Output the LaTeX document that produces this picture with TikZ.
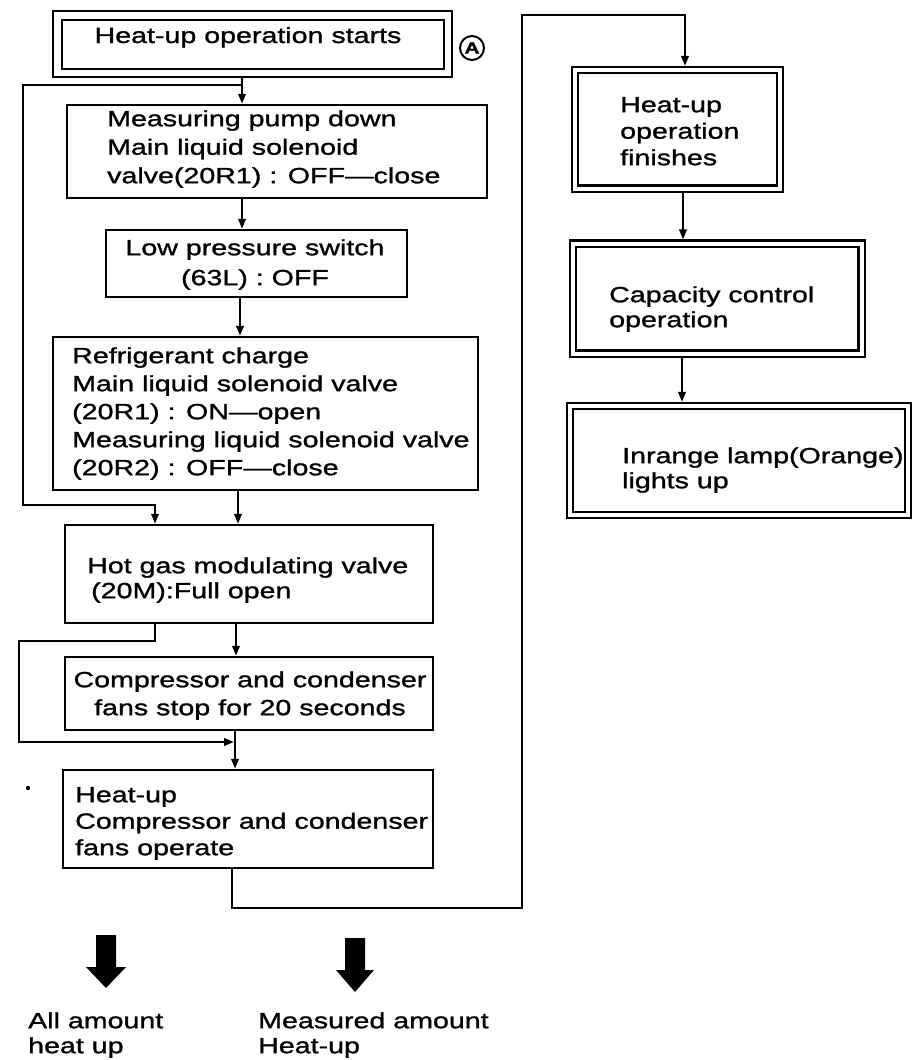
\documentclass[tikz,border=0pt]{standalone}
\usepackage{fontspec}
\setmainfont[FakeStretch=1.3,FakeBold=1.2]{Liberation Sans}
\usetikzlibrary{arrows.meta}
\newcommand\fs{\rule{0pt}{17pt}}
\begin{document}
\begin{tikzpicture}[x=1pt,y=-1pt,
  box/.style={draw, line width=2.5pt, rectangle, inner sep=0pt},
  dboxA/.style={draw, line width=2.2pt, double, double distance=6.5pt, rectangle, inner sep=0pt, outer sep=5.45pt},
  dboxB/.style={draw, line width=2.1pt, double, double distance=4pt, rectangle, inner sep=0pt, outer sep=4.1pt},
  txt/.style={inner sep=0pt, anchor=north west, align=left, font=\fontsize{22}{28}\selectfont},
  ln/.style={line width=2.2pt, line join=miter},
  arr/.style={ln, -{Triangle[length=10pt,width=7.5pt]}}
]
\useasboundingbox (0,0) rectangle (914,1060);

% boxes
\node[dboxA, minimum width=390.5pt, minimum height=57.5pt] (b1) at (252.75,44.25) {};
\node[box, minimum width=420pt, minimum height=93pt] (b2) at (277,151.5) {};
\node[box, minimum width=301pt, minimum height=67pt] (b3) at (256.5,263.5) {};
\node[box, minimum width=425pt, minimum height=153pt] (b4) at (265.5,413.5) {};
\node[box, minimum width=368pt, minimum height=98pt] (b5) at (249,574) {};
\node[box, minimum width=368pt, minimum height=73pt] (b6) at (249,693.5) {};
\node[box, minimum width=370pt, minimum height=98pt] (b7) at (248,819) {};
\node[dboxB, minimum width=205pt, minimum height=118.5pt] (b8) at (677.5,129.25) {};
\node[dboxB, minimum width=288.5pt, minimum height=110pt] (b9) at (717.25,298.5) {};
\node[dboxB, minimum width=338pt, minimum height=109pt] (b10) at (739,460.5) {};

% texts
\node[txt, anchor=base] (t1) at (248,43) {Heat-up operation starts};
\node[txt, font=\fontsize{22}{28.5}\selectfont] (t2) at (107,109) {\fs Measuring pump down\\Main liquid solenoid\\valve(20R1) : OFF—close};
\node[txt, anchor=north, align=center, font=\fontsize{22}{30}\selectfont] (t3) at (255,238) {\fs Low pressure switch\\(63L) : OFF};
\node[txt] (t4) at (72,346) {\fs Refrigerant charge\\Main liquid solenoid valve\\(20R1) : ON—open\\Measuring liquid solenoid valve\\(20R2) : OFF—close};
\node[txt, font=\fontsize{22}{25}\selectfont] (t5) at (87,556) {\fs Hot gas modulating valve\\\hspace{4pt}(20M):Full open};
\node[txt, anchor=north, align=center] (t6) at (250,670) {\fs Compressor and condenser\\fans stop for 20 seconds};
\node[txt, font=\fontsize{22}{26.5}\selectfont] (t7) at (75,785) {\fs Heat-up\\Compressor and condenser\\fans operate};
\node[txt, font=\fontsize{22}{26.5}\selectfont] (t8) at (620,95) {\fs Heat-up\\operation\\finishes};
\node[txt, font=\fontsize{22}{25}\selectfont] (t9) at (609,285) {\fs Capacity control\\operation};
\node[txt, font=\fontsize{22}{25}\selectfont] (t10) at (622,446) {\fs Inrange lamp(Orange)\\lights up};
\node[txt, font=\fontsize{22}{25}\selectfont] (t11) at (28,1011) {\fs All amount\\heat up};
\node[txt, font=\fontsize{22}{25}\selectfont] (t12) at (258,1011) {\fs Measured amount\\Heat-up};

% circled A
\node[circle, draw, line width=2pt, inner sep=0pt, minimum size=24pt, font=\bfseries\fontsize{16}{16}\selectfont] (ca) at (472,48) {A};
% stray dot
\fill (28,788) circle (2.2pt);

% x-position helpers
\coordinate (x242) at (242,0);
\coordinate (x240) at (240,0);
\coordinate (x238) at (238,0);
\coordinate (x236) at (236,0);
\coordinate (x235) at (235,0);
\coordinate (x232) at (232,0);
\coordinate (x155) at (155,0);
\coordinate (x685) at (685,0);
\coordinate (x683) at (683,0);
\coordinate (x682) at (682,0);

% main flow
\draw[arr] (b1.south -| x242) -- (b2.north -| x242);
\draw[arr] (b2.south -| x242) -- (b3.north -| x242);
\draw[arr] (b3.south -| x240) -- (b4.north -| x240);
\draw[arr] (b4.south -| x238) -- (b5.north -| x238);
\draw[arr] (b5.south -| x236) -- (b6.north -| x236);
\draw[arr] (b6.south -| x235) -- (b7.north -| x235);
\draw[arr] (b8.south -| x683) -- (b9.north -| x683);
\draw[arr] (b9.south -| x682) -- (b10.north -| x682);

% loop 1
\coordinate (j1) at (242,85);
\coordinate (l1a) at (23,85);
\coordinate (l1b) at (23,505);
\coordinate (l1c) at (155,505);
\draw[arr] (j1) -- (l1a) -- (l1b) -- (l1c) -- (b5.north -| x155);

% loop 2
\coordinate (l2a) at (155,641);
\coordinate (l2b) at (19,641);
\coordinate (l2c) at (19,742);
\coordinate (j2) at (234,742);
\draw[arr] (b5.south -| x155) -- (l2a) -- (l2b) -- (l2c) -- (j2);

% loop 3
\coordinate (l3a) at (232,908);
\coordinate (l3b) at (522,908);
\coordinate (l3c) at (522,15);
\coordinate (l3d) at (685,15);
\draw[arr] (b7.south -| x232) -- (l3a) -- (l3b) -- (l3c) -- (l3d) -- (b8.north -| x685);

% bold arrows
\fill (96,935) -- (116,935) -- (116,967) -- (126,967) -- (106,988) -- (86,967) -- (96,967) -- cycle;
\fill (345,938) -- (365,938) -- (365,970) -- (374,970) -- (355,992) -- (336,970) -- (345,970) -- cycle;
\end{tikzpicture}
\end{document}
